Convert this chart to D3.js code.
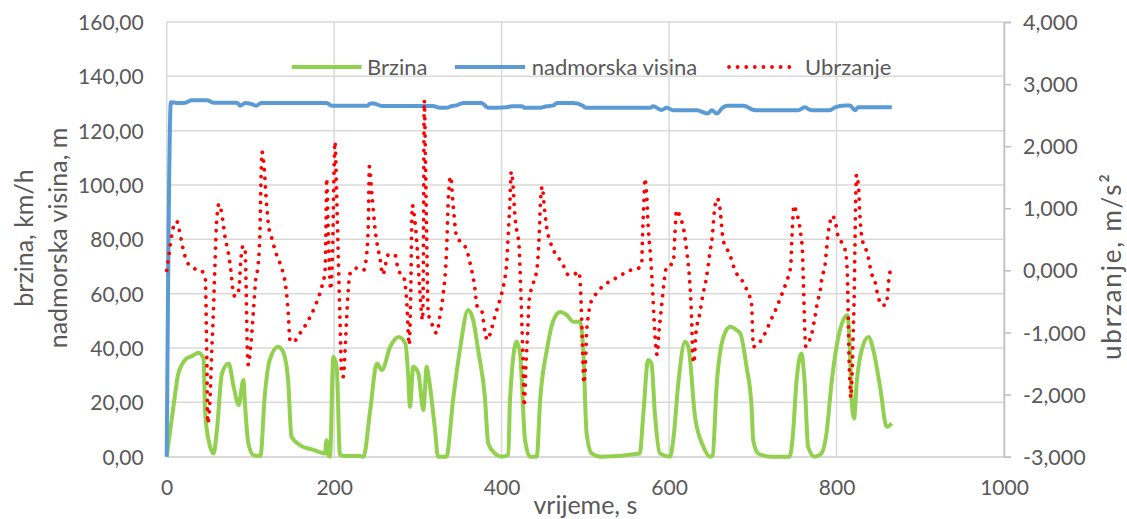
<!DOCTYPE html>
<html><head><meta charset="utf-8">
<script src="https://cdn.jsdelivr.net/npm/d3@7"></script>
<style>body{margin:0;background:#fff}svg{display:block}text{font-family:Lato,"Open Sans",sans-serif;fill:#595959}</style>
</head><body><svg id="c" width="1127" height="519"></svg>
<script>
// ---- data ----
const seriesNames = ["Brzina", "nadmorska visina", "Ubrzanje"];
const leftTicks = [0, 20, 40, 60, 80, 100, 120, 140, 160];
const rightTicks = [-3, -2, -1, 0, 1, 2, 3, 4];
const xTicks = [0, 200, 400, 600, 800, 1000];

const speedTime = [0,8,14,24,30,38,44,46,50,56,60,66,74,80,86,91.5,94,97.5,104,112,117,123,133,139,145,149,159,175,189,191,193,195,199,203,207,214,231,235,243,251,257,267,277,285,288.5,290.5,294.5,300.5,306.5,310.5,313,320.5,324,334,342,350,360,366,372,380,384,392,400,408,410,418,422,428,434,442,446,454,462,470,478,485.5,493.5,497.5,501.5,507.5,518,565,569,575,579,583,589,601,605,611,619,623,631,641,649,652,657,665,673,681,685,692.5,698.5,700.5,706.5,721,744,748,752,758,762,766,774,782,788,794,800,808,813,816,818,821,824,830,838,844,852,860,866];
const speedValues = [0,18.4,30.7,36.2,37,38.3,36.2,16,6.1,1.2,9.8,30.7,34.3,25.7,19,28.2,17,4.9,0.5,0.3,22,35.6,40.5,38.6,28.2,7.4,4.3,2.5,1.2,6.1,0.6,0,36.8,33,0.6,0.3,0.3,0,17,34.3,31.9,40.5,44.1,41.7,29.4,18.4,33.1,30.7,17.2,33.1,29,9.8,0,0,20.8,39,54,50.3,39.2,22,4.9,1.2,0,0.6,20.8,42.3,38,6.1,0,0,20.8,39.2,50.3,53.3,52.1,49.7,49.7,39.2,8.6,1.2,0,1.2,14.7,35.6,34.3,16,1.2,0,6.1,27,42.3,40.5,14.7,3.7,0,0.5,27,44.1,47.8,46.5,45.4,33.1,18.4,6.1,1.2,0,0,8.6,27,38,27,3.7,0,1.2,8.6,27,40.5,50.3,52.1,39.2,20.8,14.1,27,39.2,44.1,39.2,25.7,11,12.3];

const altTime = [0,5,12,22,30,48,56,84,88,94,101,107,113,191,197,240,243,247,257,318,326,334,340,346,354,376,384,406,412,424,428,446,454,462,466,486,497,501,577,581,591,597,605,633,646,651,657,664,669,689,700,704,754,762,770,792,798,810,816,822,826,866];
const altValues = [0,130.5,130.2,130.3,131.2,131.2,130.3,130.3,129.2,130.2,129.8,129.2,130.2,130.2,129.2,129.2,130,130,129.1,129.1,128.4,128.4,129,129.3,130.2,130.2,128.4,128.6,129,129,128.4,128.4,129,129.3,130.2,130.2,129.2,128.4,128.4,129,127.6,128.4,127.5,127.5,126.3,127.5,126.3,128.5,129.2,129.2,127.7,127.5,127.5,128.6,127.5,127.5,128.6,129.3,129.3,127.5,128.6,128.6];

const accTime = [0,3,6,8,12,15,19,24.6,32,41,46,48,49,51.7,53.7,55.7,57.7,59.7,62.5,65.7,69.6,73.6,76.8,78.8,81.6,86.3,88.3,90.7,93.5,94.7,96.2,97.5,100.3,103.4,106.3,109.4,111.4,112.6,113.8,116.6,118.6,121.3,125.4,131.3,138.5,142.5,145.2,147.2,151.2,157.2,167.2,177.1,184.2,189,190.2,191,193,195.8,198,201,203,205,207,209,211,213,215,219,226,235,239,241,242,245,249,255,258,264.6,272.6,276.6,283,286.5,289.7,291.3,293.3,295.5,298.5,302.5,305.6,306.5,307.6,309.2,310.4,312.4,316.4,322.4,326.3,330.3,334.3,336.3,339.1,342.2,346.3,353,358.2,363.3,367.3,370.9,376.1,380,382.8,386.8,392,398,402.7,406,408,410,411.5,413.1,415.9,418.6,420.6,421.9,423.9,425.8,427,429,431,433,437.8,442.5,445,446.5,448.5,450.9,453.7,458.5,463.6,469.6,474.4,479.5,485.5,492.3,494.3,495.5,496.7,498.3,500,501.5,503.4,506.3,510.6,517.4,525.4,533.3,543.3,553.2,561.2,567.2,568.4,570,571.1,573.1,575.1,577.9,580.3,581.9,584.2,585.8,587.8,591,593.8,597,605,607,609,613.7,616.9,620.9,624.8,626.8,628,629.6,632,636,640.7,644.8,648.7,652,653.5,657.5,660.7,664.6,669.4,673.4,676.6,680.6,686.6,691.7,695.7,698.5,699.7,700.5,707.3,712.4,717.2,721.2,725.5,729.6,733.1,737.1,740.3,743.4,745.4,746.6,748.2,749,751.4,754.1,757.4,759.4,760.1,761,761.8,763.4,766,770,774,777.3,780,782.8,786,788,790,792,794.4,798,802,808,811,813,814,814.7,816,817,818.6,819.9,821,821.9,822.7,823.9,826.3,827.8,830.6,834.6,837.7,841.8,845.8,849.7,853.7,858.5,861,862.5,864.5];
const accValues = [0,0.28,0.57,0.7,0.79,0.65,0.38,0.13,0.035,0,-0.11,-1.49,-2.46,-2.08,-1.33,-0.69,0.12,0.81,1.07,0.92,0.54,0.28,-0.02,-0.29,-0.42,-0.3,0.12,0.38,0.38,-0.15,-1.23,-1.52,-1.23,-0.69,-0.15,0.12,0.65,1.46,1.91,1.62,1.19,0.76,0.52,0.25,-0.02,-0.29,-0.69,-1.12,-1.16,-1.05,-0.85,-0.58,-0.31,-0.02,0.65,1.48,0.6,-0.31,0.3,2.07,1.2,0.2,-0.8,-1.68,-1.71,-1.3,-0.74,-0.05,0.035,0,0.28,0.87,1.67,1.24,0.65,0.17,-0.07,0.25,0.25,0,-0.1,-0.47,-1.2,-0.47,1.05,0.9,0.49,-0.37,-0.8,0,2.74,1.67,0.6,-0.69,-0.85,-1.01,-0.74,-0.37,0.33,1.13,1.51,1.03,0.54,0.44,0.33,0.06,-0.21,-0.58,-0.64,-0.98,-1.12,-1.0,-0.74,-0.47,-0.21,0.12,0.6,1.13,1.59,1.46,0.87,0.6,0.44,0.06,-0.74,-1.55,-2.19,-1.55,-1.01,-0.47,-0.21,0.06,0.6,1.13,1.35,1.03,0.7,0.44,0.28,0.17,0.06,-0.07,-0.07,-0.02,-0.31,-0.74,-1.28,-1.82,-1.55,-1.01,-0.74,-0.53,-0.42,-0.3,-0.21,-0.15,-0.07,0,0.02,0.09,0.6,1.13,1.48,1.24,0.7,0.22,-0.31,-0.74,-1.23,-1.36,-1.01,-0.58,-0.21,0.06,0.12,0.6,0.97,0.84,0.7,0.33,-0.21,-0.74,-1.28,-1.49,-1.01,-0.74,-0.37,-0.1,0.28,0.6,0.87,1.16,1.0,0.49,0.34,0.22,0.08,-0.05,-0.15,-0.28,-0.4,-0.54,-0.96,-1.23,-1.17,-1.07,-0.94,-0.81,-0.69,-0.56,-0.44,-0.3,-0.18,-0.05,0.09,0.49,0.92,1.05,0.97,0.84,0.57,0.28,-0.05,-0.47,-0.85,-1.23,-1.17,-1.04,-0.77,-0.5,-0.37,-0.1,0.06,0.33,0.6,0.76,0.88,0.81,0.54,0.41,0.28,-0.1,-0.74,-1.28,-1.82,-2.05,-1.65,-1.01,-0.47,0.33,1.03,1.54,1.35,0.92,0.5,0.36,0.22,-0.05,-0.18,-0.42,-0.56,-0.56,-0.39,-0.14,0];

const xTitle = "vrijeme, s";
const leftTitle = ["brzina, km/h", "nadmorska visina, m"];
const rightTitle = "ubrzanje, m/s²";

// ---- layout ----
const L = 166.7, R = 1004, T = 22, B = 456.7;
const svg = d3.select("#c");
const x = d3.scaleLinear().domain([0, 1000]).range([L, R]);
const yL = d3.scaleLinear().domain([0, 160]).range([B, T]);
const yR = d3.scaleLinear().domain([-3, 4]).range([B, T]);
const loc = d3.formatLocale({decimal: ",", thousands: ".", grouping: [3], currency: ["", ""], minus: "-"});
const f2 = loc.format(".2f"), f3 = loc.format(".3f");
const grid = "#d9d9d9";

// gridlines
svg.append("g").selectAll("line").data(leftTicks).join("line")
  .attr("x1", L).attr("x2", R).attr("y1", d => yL(d)).attr("y2", d => yL(d))
  .attr("stroke", grid).attr("stroke-width", 1.5);
svg.append("g").selectAll("line").data(xTicks).join("line")
  .attr("x1", d => x(d)).attr("x2", d => x(d)).attr("y1", T).attr("y2", B)
  .attr("stroke", grid).attr("stroke-width", 1.5);

// axes
const gx = svg.append("g").attr("transform", `translate(0,${B})`)
  .call(d3.axisBottom(x).tickValues(xTicks).tickSize(0).tickPadding(0).tickFormat(d3.format("d")));
gx.select(".domain").attr("stroke", grid).attr("stroke-width", 1.5);
gx.selectAll("text").attr("y", 31).attr("dy", "0.35em").style("font-size", "21px").attr("fill", "#595959");

const gl = svg.append("g").attr("transform", `translate(${L},0)`)
  .call(d3.axisLeft(yL).tickValues(leftTicks).tickSize(0).tickPadding(0).tickFormat(f2));
gl.select(".domain").remove();
gl.selectAll("text").attr("x", -23).attr("dy", "0.35em").style("font-size", "21px").attr("fill", "#595959");

const gr = svg.append("g").attr("transform", `translate(${R},0)`)
  .call(d3.axisRight(yR).tickValues(rightTicks).tickSize(7).tickPadding(0).tickFormat(f3));
gr.select(".domain").attr("stroke", "#bfbfbf").attr("stroke-width", 1.5);
gr.selectAll(".tick line").attr("stroke", "#bfbfbf").attr("stroke-width", 1.5);
gr.selectAll("text").attr("x", 19).attr("dy", "0.35em").style("font-size", "21.5px").attr("fill", "#595959");
svg.selectAll(".tick text").style("font-family", "Lato");

// titles
svg.append("text").attr("x", (L + R) / 2).attr("y", 514).attr("text-anchor", "middle")
  .style("font-size", "25px").text(xTitle);
const lt = svg.append("text").attr("transform", "translate(33,238) rotate(-90)").attr("text-anchor", "middle").style("font-size", "25px");
lt.selectAll("tspan").data(leftTitle).join("tspan").attr("x", 0).attr("dy", (d, i) => i ? 33.5 : 0).text(d => d);
svg.append("text").attr("transform", "translate(1121,267) rotate(-90)").attr("text-anchor", "middle")
  .style("font-size", "26px").attr("textLength", 186).attr("lengthAdjust", "spacing").text(rightTitle);

// series
const plot = svg.append("g");
const mk = (ts, vs) => ts.map((t, i) => [t, vs[i]]);
plot.append("path").datum(mk(speedTime, speedValues))
  .attr("d", d3.line().x(d => x(d[0])).y(d => yL(d[1])).curve(d3.curveMonotoneX))
  .attr("fill", "none").attr("stroke", "#92d050").attr("stroke-width", 4).attr("stroke-linejoin", "round");
plot.append("path").datum(mk(altTime, altValues))
  .attr("d", d3.line().x(d => x(d[0])).y(d => yL(d[1])).curve(d3.curveMonotoneX))
  .attr("fill", "none").attr("stroke", "#5b9bd5").attr("stroke-width", 4).attr("stroke-linejoin", "round");
plot.append("path").datum(mk(accTime, accValues))
  .attr("d", d3.line().x(d => x(d[0])).y(d => yR(d[1])).curve(d3.curveMonotoneX))
  .attr("fill", "none").attr("stroke", "#ff0000").attr("stroke-width", 3.8)
  .attr("stroke-linecap", "round").attr("stroke-dasharray", "0.01 8.6");

// legend
const legend = [
  {name: seriesNames[0], x1: 291.7, x2: 361.7, tx: 367, color: "#92d050", dash: null, cap: "butt"},
  {name: seriesNames[1], x1: 455, x2: 525, tx: 531.7, color: "#5b9bd5", dash: null, cap: "butt"},
  {name: seriesNames[2], x1: 729, x2: 792, tx: 805, color: "#ff0000", dash: "0.01 8.6", cap: "round"}
];
const lg = svg.append("g");
lg.selectAll("line").data(legend).join("line")
  .attr("x1", d => d.x1).attr("x2", d => d.x2).attr("y1", 67).attr("y2", 67)
  .attr("stroke", d => d.color).attr("stroke-width", d => d.dash ? 3.8 : 4)
  .attr("stroke-dasharray", d => d.dash).attr("stroke-linecap", d => d.cap);
lg.selectAll("text").data(legend).join("text")
  .attr("x", d => d.tx).attr("y", 67).attr("dy", "0.35em").style("font-size", "22px").text(d => d.name);
</script></body></html>
